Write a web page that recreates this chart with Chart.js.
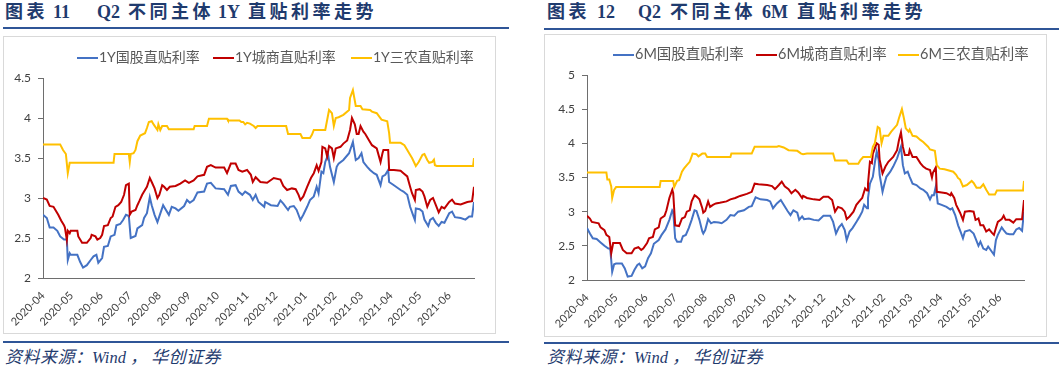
<!DOCTYPE html>
<html><head><meta charset="utf-8">
<script src="https://cdn.jsdelivr.net/npm/chart.js@4.4.1/dist/chart.umd.min.js"></script>
<style>
html,body{margin:0;padding:0;background:#fff;}
body{width:1059px;height:369px;position:relative;overflow:hidden;font-family:"Noto Sans CJK SC",sans-serif;}
.t{position:absolute;top:0;height:24px;line-height:24px;font-family:"Liberation Serif","Noto Sans CJK SC",serif;font-weight:bold;font-size:18px;color:#1F3B6E;white-space:pre;}
.t.c{letter-spacing:3.5px;}
.rule{position:absolute;height:2px;background:#2F5597;}
.box{position:absolute;border:1px solid #D9D9D9;box-sizing:border-box;}
.box canvas{position:absolute;left:0;top:0;}
.s{position:absolute;top:348px;height:20px;line-height:20px;font-family:"Liberation Serif","Noto Sans CJK SC",serif;font-style:italic;font-size:16.5px;color:#1F3B6E;white-space:pre;}
.s.c{font-size:17px;letter-spacing:0.5px;}
.lg{position:absolute;height:16px;line-height:16px;font-family:Lato,"Noto Sans CJK SC",sans-serif;font-size:14px;color:#595959;white-space:nowrap;}
.lg i{display:inline-block;width:21px;height:2px;vertical-align:middle;margin-right:1px;}
</style></head>
<body>
<span class="t c" style="left:5px;">图表</span><span class="t" style="left:53px;">11</span><span class="t" style="left:97px;">Q2</span><span class="t c" style="left:128px;">不同主体</span><span class="t" style="left:218px;">1Y</span><span class="t c" style="left:248px;">直贴利率走势</span>
<div class="rule" style="left:3px;top:27px;width:506px;"></div>
<div class="box" style="left:3px;top:36px;width:493px;height:298px;"><canvas id="c1" width="491" height="296"></canvas></div>
<div id="lg1"></div>
<div class="rule" style="left:3px;top:341px;width:506px;"></div>
<span class="s c" style="left:5px;">资料来源：</span><span class="s" style="left:92px;">Wind</span><span class="s c" style="left:130px;">，</span><span class="s c" style="left:151px;">华创证券</span>

<span class="t c" style="left:547px;">图表</span><span class="t" style="left:597px;">12</span><span class="t" style="left:638px;">Q2</span><span class="t c" style="left:670px;">不同主体</span><span class="t" style="left:762px;">6M</span><span class="t c" style="left:797px;">直贴利率走势</span>
<div class="rule" style="left:544px;top:28px;width:515px;"></div>
<div class="box" style="left:544px;top:34px;width:503px;height:303px;"><canvas id="c2" width="501" height="301"></canvas></div>
<div id="lg2"></div>
<div class="rule" style="left:544px;top:342px;width:515px;"></div>
<span class="s c" style="left:547px;">资料来源：</span><span class="s" style="left:634px;">Wind</span><span class="s c" style="left:672px;">，</span><span class="s c" style="left:693px;">华创证券</span>

<script>
// ---- tick labels (month starts) ----
const monthLabels = ['2020-04','2020-05','2020-06','2020-07','2020-08','2020-09','2020-10','2020-11','2020-12','2021-01','2021-02','2021-03','2021-04','2021-05','2021-06'];
// ---- series names ----
const names1Y = ['1Y国股直贴利率','1Y城商直贴利率','1Y三农直贴利率'];
const names6M = ['6M国股直贴利率','6M城商直贴利率','6M三农直贴利率'];
const colors = ['#4472C4','#C00000','#FFC000'];

// ---- data: [days since 2020-04-01, rate %] ----
const g1Y = [[0,2.79],[4,2.75],[7,2.63],[11,2.63],[15,2.59],[18,2.52],[22,2.48],[25,2.48],[26,2.225],[28,2.31],[29,2.29],[36,2.29],[39,2.20],[42,2.13],[46,2.16],[50,2.225],[53,2.27],[56,2.29],[58,2.19],[62,2.25],[64,2.39],[68,2.40],[71,2.52],[75,2.54],[77,2.66],[81,2.675],[84,2.725],[87,2.79],[90,2.775],[92,2.50],[97,2.525],[99,2.62],[104,2.66],[106,2.75],[109,2.81],[112,3.01],[114,2.91],[117,2.79],[120,2.70],[122,2.77],[126,2.91],[128,2.87],[132,2.79],[135,2.89],[139,2.87],[142,2.84],[148,2.90],[151,2.975],[154,2.94],[158,2.975],[162,3.07],[169,3.08],[172,3.18],[176,3.19],[181,3.12],[190,3.11],[194,3.04],[197,3.15],[202,3.16],[205,3.08],[209,3.04],[212,3.08],[217,3.04],[220,2.975],[223,3.04],[226,2.95],[232,2.89],[233,2.95],[239,2.91],[246,2.90],[249,2.97],[252,2.93],[257,2.85],[259,2.89],[263,2.90],[266,2.85],[270,2.725],[273,2.79],[277,2.89],[280,2.975],[284,3.02],[287,3.14],[289,3.06],[292,3.33],[294,3.31],[296,3.45],[299,3.54],[301,3.39],[305,3.20],[308,3.39],[310,3.43],[315,3.475],[321,3.56],[325,3.70],[328,3.475],[331,3.50],[334,3.56],[336,3.45],[340,3.39],[343,3.35],[347,3.31],[350,3.29],[354,3.16],[356,3.27],[359,3.29],[362,3.35],[363,3.20],[368,3.16],[375,3.10],[378,3.08],[382,3.04],[385,2.89],[388,2.79],[390,2.725],[391,2.87],[395,2.86],[398,2.83],[400,2.73],[404,2.65],[406,2.725],[409,2.75],[412,2.69],[415,2.65],[418,2.70],[421,2.69],[426,2.81],[429,2.83],[432,2.76],[438,2.75],[443,2.73],[447,2.77],[450,2.77],[452,2.95]];
const c1Y = [[0,3.0],[4,2.98],[7,2.90],[11,2.89],[13,2.85],[16,2.79],[19,2.72],[22,2.66],[23,2.63],[25,2.475],[26,2.59],[28,2.56],[29,2.59],[36,2.59],[37,2.52],[41,2.44],[46,2.44],[50,2.50],[51,2.54],[55,2.52],[57,2.48],[60,2.50],[62,2.54],[64,2.65],[68,2.66],[71,2.75],[73,2.77],[76,2.89],[79,2.91],[82,2.95],[85,3.04],[87,3.16],[90,3.18],[91,2.79],[93,2.83],[97,2.85],[99,2.91],[101,2.96],[104,3.04],[106,3.08],[109,3.14],[112,3.25],[114,3.20],[117,3.12],[120,3.0],[122,3.04],[125,3.16],[127,3.14],[130,3.10],[133,3.14],[139,3.15],[144,3.18],[149,3.22],[153,3.19],[158,3.22],[162,3.27],[169,3.29],[172,3.39],[176,3.41],[181,3.38],[190,3.38],[193,3.31],[197,3.43],[202,3.43],[205,3.35],[209,3.33],[214,3.35],[218,3.29],[220,3.20],[223,3.26],[228,3.20],[235,3.19],[242,3.25],[249,3.23],[252,3.15],[256,3.10],[261,3.12],[265,3.11],[268,3.04],[270,2.975],[273,3.02],[277,3.14],[281,3.25],[284,3.31],[287,3.41],[289,3.34],[292,3.45],[293,3.64],[296,3.62],[298,3.52],[300,3.65],[303,3.62],[305,3.50],[307,3.62],[312,3.64],[315,3.68],[319,3.72],[322,3.85],[324,4.0],[327,3.92],[329,3.80],[331,3.80],[333,3.90],[336,3.83],[338,3.80],[342,3.72],[345,3.66],[350,3.62],[354,3.45],[356,3.56],[357,3.60],[362,3.60],[363,3.35],[368,3.35],[375,3.34],[378,3.31],[382,3.27],[385,3.14],[387,3.06],[390,2.975],[391,3.10],[395,3.11],[398,3.08],[400,3.02],[403,2.89],[406,2.975],[409,3.0],[412,2.91],[415,2.82],[418,2.89],[421,2.87],[426,2.95],[429,2.98],[432,2.93],[438,2.92],[445,2.95],[450,2.96],[452,3.14]];
const s1Y = [[0,3.67],[18,3.67],[21,3.60],[24,3.55],[26,3.31],[28,3.44],[74,3.44],[75,3.55],[90,3.55],[91,3.45],[92,3.55],[95,3.56],[97,3.60],[99,3.71],[102,3.78],[107,3.81],[109,3.875],[111,3.95],[114,3.96],[116,3.92],[120,3.85],[121,3.92],[123,3.85],[125,3.90],[130,3.90],[132,3.86],[158,3.86],[159,3.90],[172,3.90],[174,3.99],[193,3.99],[194,3.97],[206,3.97],[208,3.95],[210,3.95],[212,3.92],[214,3.94],[217,3.93],[221,3.90],[223,3.875],[225,3.90],[255,3.90],[257,3.80],[270,3.80],[272,3.75],[280,3.75],[282,3.79],[284,3.85],[296,3.85],[300,4.10],[303,4.06],[305,3.90],[307,4.0],[310,4.01],[315,4.04],[321,4.10],[322,4.25],[325,4.35],[328,4.15],[333,4.15],[335,4.11],[343,4.10],[345,4.08],[350,4.06],[355,3.98],[361,3.96],[363,3.81],[364,3.69],[375,3.69],[379,3.66],[382,3.60],[384,3.56],[387,3.50],[391,3.40],[394,3.45],[398,3.54],[400,3.55],[403,3.475],[405,3.44],[408,3.45],[410,3.48],[411,3.41],[413,3.40],[451,3.40],[452,3.50]];

const g6M = [[0,2.76],[3,2.68],[6,2.61],[10,2.60],[14,2.55],[18,2.50],[22,2.46],[24,2.46],[26,2.12],[28,2.23],[30,2.24],[36,2.24],[39,2.17],[42,2.05],[46,2.06],[49,2.15],[52,2.22],[54,2.24],[57,2.17],[60,2.20],[63,2.32],[66,2.39],[69,2.53],[74,2.585],[77,2.66],[81,2.74],[85,2.88],[88,3.02],[89,3.0],[91,2.61],[93,2.56],[97,2.56],[99,2.64],[102,2.66],[105,2.76],[108,2.88],[111,3.02],[113,3.01],[116,2.88],[119,2.71],[120,2.68],[122,2.73],[125,2.89],[128,2.83],[131,2.85],[136,2.84],[139,2.83],[144,2.88],[148,2.95],[152,2.94],[156,3.0],[162,3.02],[167,3.07],[170,3.08],[174,3.21],[179,3.18],[186,3.17],[189,3.15],[192,3.05],[196,3.12],[200,3.17],[203,3.10],[207,3.01],[210,2.95],[213,3.02],[217,2.985],[219,2.88],[222,2.93],[224,2.89],[229,2.90],[234,2.88],[239,2.87],[244,2.94],[251,2.94],[254,2.85],[257,2.68],[260,2.77],[263,2.82],[266,2.73],[268,2.585],[271,2.71],[274,2.76],[278,2.85],[281,2.92],[284,3.0],[286,3.10],[289,3.05],[290,3.20],[292,3.41],[295,3.51],[297,3.71],[299,3.88],[301,3.76],[302,3.54],[305,3.29],[307,3.41],[309,3.51],[313,3.585],[316,3.66],[320,3.78],[324,3.95],[326,3.68],[328,3.56],[331,3.585],[333,3.51],[336,3.41],[340,3.39],[344,3.34],[347,3.32],[351,3.27],[354,3.18],[356,3.24],[358,3.24],[360,3.37],[362,3.12],[366,3.10],[371,3.07],[375,3.03],[377,3.05],[380,2.95],[383,2.80],[386,2.69],[388,2.61],[390,2.71],[395,2.73],[399,2.68],[401,2.61],[404,2.50],[406,2.56],[409,2.46],[412,2.44],[414,2.49],[418,2.41],[420,2.37],[422,2.585],[424,2.66],[428,2.77],[430,2.73],[433,2.68],[436,2.67],[440,2.67],[443,2.74],[446,2.76],[449,2.72],[451,3.0]];
const c6M = [[0,2.94],[3,2.90],[5,2.85],[12,2.83],[14,2.77],[18,2.73],[20,2.66],[23,2.63],[25,2.39],[27,2.54],[34,2.54],[37,2.44],[41,2.39],[46,2.39],[49,2.46],[53,2.48],[56,2.44],[58,2.46],[62,2.54],[64,2.61],[68,2.63],[70,2.74],[74,2.77],[76,2.90],[80,2.94],[82,3.02],[85,3.20],[88,3.32],[89,3.27],[91,2.80],[95,2.79],[98,2.90],[101,2.92],[103,3.0],[106,3.02],[108,3.15],[111,3.24],[113,3.22],[116,3.18],[119,3.05],[120,2.985],[122,3.01],[125,3.15],[127,3.07],[130,3.10],[133,3.12],[137,3.13],[144,3.15],[148,3.18],[153,3.20],[158,3.23],[165,3.26],[170,3.29],[173,3.41],[177,3.40],[186,3.39],[191,3.375],[194,3.33],[198,3.39],[201,3.44],[204,3.37],[208,3.33],[211,3.27],[215,3.32],[218,3.28],[222,3.20],[223,3.23],[227,3.20],[234,3.18],[240,3.17],[244,3.22],[249,3.22],[253,3.17],[256,3.0],[259,3.07],[263,3.05],[266,3.0],[268,2.89],[271,2.93],[275,3.0],[278,3.10],[282,3.17],[284,3.20],[287,3.34],[289,3.31],[290,3.41],[292,3.73],[294,3.71],[295,3.85],[299,4.0],[301,3.98],[302,3.76],[305,3.56],[308,3.66],[311,3.73],[316,3.80],[320,3.90],[322,4.05],[324,4.16],[326,3.95],[328,3.83],[332,3.83],[333,3.90],[336,3.80],[340,3.80],[344,3.71],[347,3.66],[350,3.63],[354,3.61],[356,3.50],[357,3.57],[360,3.65],[361,3.29],[366,3.28],[371,3.27],[375,3.24],[376,3.27],[379,3.20],[381,3.10],[385,2.985],[388,2.88],[390,3.0],[395,3.01],[399,3.0],[401,2.88],[404,2.90],[406,2.80],[409,2.80],[412,2.71],[415,2.74],[418,2.69],[420,2.66],[422,2.76],[424,2.85],[428,2.89],[430,2.94],[432,2.88],[436,2.88],[440,2.84],[443,2.89],[449,2.89],[451,3.17]];
const s6M = [[0,3.575],[20,3.575],[21,3.47],[23,3.47],[25,3.37],[26,3.20],[28,3.32],[30,3.36],[75,3.36],[76,3.45],[89,3.45],[90,3.36],[93,3.45],[95,3.46],[98,3.585],[100,3.63],[103,3.68],[106,3.73],[109,3.85],[113,3.84],[115,3.81],[119,3.85],[122,3.85],[124,3.80],[148,3.80],[149,3.85],[170,3.85],[173,3.95],[196,3.95],[198,3.96],[203,3.94],[208,3.90],[217,3.89],[221,3.85],[223,3.84],[227,3.85],[254,3.85],[256,3.75],[268,3.75],[270,3.70],[280,3.70],[282,3.75],[285,3.80],[293,3.80],[295,3.95],[297,4.0],[300,4.24],[302,4.22],[304,4.0],[306,4.11],[311,4.11],[314,4.17],[320,4.27],[322,4.37],[325,4.50],[327,4.37],[329,4.22],[332,4.17],[333,4.20],[336,4.11],[340,4.10],[344,4.05],[347,4.02],[352,3.95],[354,3.91],[359,3.89],[361,3.68],[364,3.63],[369,3.62],[378,3.585],[381,3.54],[383,3.49],[385,3.47],[388,3.37],[392,3.39],[397,3.45],[399,3.42],[402,3.35],[406,3.35],[409,3.40],[412,3.32],[415,3.25],[421,3.25],[423,3.31],[450,3.31],[451,3.45]];

// ---- month tick positions (days since first month start) ----
const base = Date.UTC(2020, 3, 1);
const monthDays = monthLabels.map(s => { const [y, m] = s.split('-').map(Number); return Math.round((Date.UTC(y, m - 1, 1) - base) / 86400000); });

function legend(id, names, lefts, top, size) {
  const el = document.getElementById(id);
  names.forEach((n, i) => {
    const d = document.createElement('div');
    d.className = 'lg';
    d.style.left = lefts[i] + 'px';
    d.style.top = top + 'px';
    d.style.fontSize = size + 'px';
    d.innerHTML = '<i style="background:' + colors[i] + '"></i>' + n;
    el.appendChild(d);
  });
}

function makeChart(id, sets, names, yMax, L) {
  return new Chart(document.getElementById(id), {
    type: 'line',
    data: { datasets: sets.map((s, i) => ({
      label: names[i], data: s.map(p => ({ x: p[0], y: p[1] })),
      borderColor: colors[i], backgroundColor: colors[i], borderWidth: 2,
      pointRadius: 0, tension: 0, fill: false, order: 2 - i
    })) },
    options: {
      responsive: false, animation: false, devicePixelRatio: 1,
      layout: { padding: { top: L.top, right: L.right, left: 0, bottom: 0 } },
      plugins: { legend: { display: false }, tooltip: { enabled: false } },
      scales: {
        x: {
          type: 'linear', min: 0, max: L.xMax,
          afterBuildTicks: sc => { sc.ticks = monthDays.map(v => ({ value: v })); },
          afterFit: sc => { sc.height = L.xh; },
          ticks: { autoSkip: false, maxRotation: 45, minRotation: 45, padding: 3, color: '#404040',
                   font: { family: 'Lato', size: 11 }, callback: (v, i) => monthLabels[i] },
          grid: { display: false },
          border: { display: true, color: '#6E6E6E', width: 1 }
        },
        y: {
          min: 2, max: yMax,
          afterFit: sc => { sc.width = L.yw; },
          ticks: { stepSize: 0.5, padding: 7, color: '#404040', font: { family: 'Lato', size: 12 },
                   callback: v => String(Math.round(v * 10) / 10) },
          grid: { display: true, drawOnChartArea: false, drawTicks: true, tickLength: 5, color: '#6E6E6E' },
          border: { display: true, color: '#6E6E6E', width: 1 }
        }
      }
    }
  });
}

legend('lg1', names1Y, [77, 213, 351], 49, 14);
legend('lg2', names6M, [613, 756, 898], 46, 14.5);
makeChart('c1', [g1Y, c1Y, s1Y], names1Y, 4.5, { top: 41, right: 21, yw: 39, xh: 55, xMax: 452 });
makeChart('c2', [g6M, c6M, s6M], names6M, 5, { top: 40, right: 22, yw: 42, xh: 56, xMax: 451 });
</script>
</body></html>
